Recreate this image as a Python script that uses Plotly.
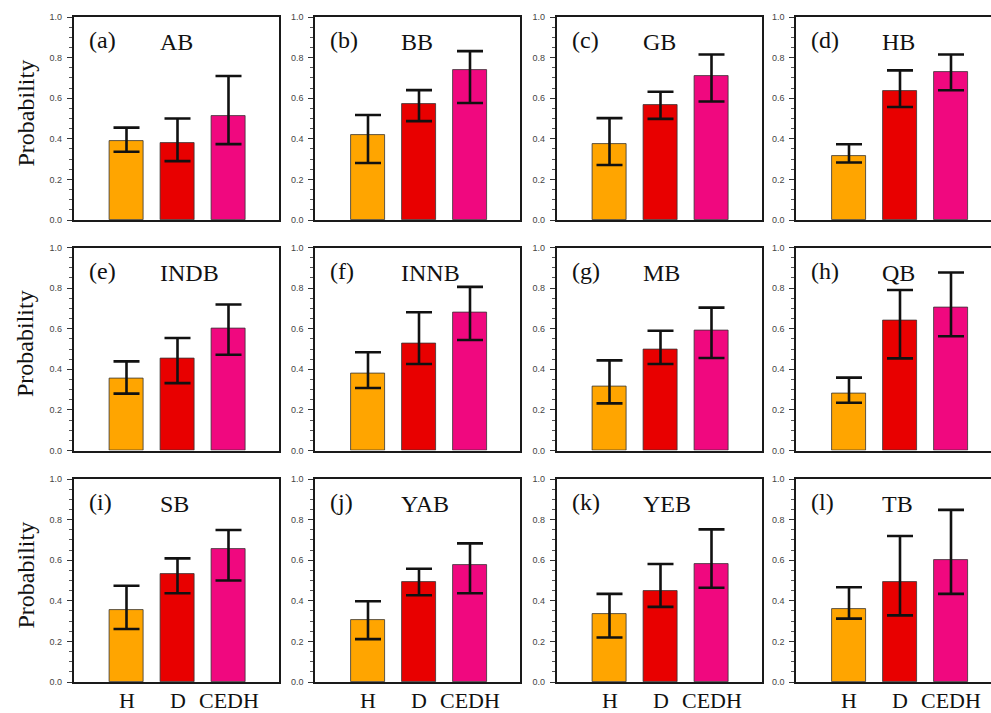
import plotly.graph_objects as go

categories = ["H", "D", "CEDH"]
basins = ["AB", "BB", "GB", "HB", "INDB", "INNB", "MB", "QB", "SB", "YAB", "YEB", "TB"]
panel_tags = ["(a)", "(b)", "(c)", "(d)", "(e)", "(f)", "(g)", "(h)", "(i)", "(j)", "(k)", "(l)"]

# mean probability for H, D, CEDH in each basin
values = [
    [0.390, 0.378, 0.514],  # AB
    [0.419, 0.571, 0.738],  # BB
    [0.376, 0.568, 0.708],  # GB
    [0.314, 0.637, 0.730],  # HB
    [0.357, 0.451, 0.599],  # INDB
    [0.377, 0.528, 0.678],  # INNB
    [0.316, 0.497, 0.589],  # MB
    [0.283, 0.638, 0.702],  # QB
    [0.356, 0.530, 0.657],  # SB
    [0.304, 0.493, 0.576],  # YAB
    [0.337, 0.450, 0.583],  # YEB
    [0.361, 0.493, 0.602],  # TB
]
upper = [
    [0.455, 0.500, 0.709],
    [0.517, 0.640, 0.832],
    [0.502, 0.632, 0.815],
    [0.373, 0.737, 0.815],
    [0.439, 0.554, 0.719],
    [0.484, 0.681, 0.806],
    [0.444, 0.590, 0.704],
    [0.359, 0.791, 0.877],
    [0.474, 0.609, 0.749],
    [0.398, 0.558, 0.683],
    [0.434, 0.581, 0.752],
    [0.467, 0.719, 0.848],
]
lower = [
    [0.336, 0.290, 0.374],
    [0.281, 0.487, 0.576],
    [0.271, 0.498, 0.584],
    [0.283, 0.557, 0.639],
    [0.280, 0.332, 0.472],
    [0.308, 0.426, 0.544],
    [0.232, 0.426, 0.456],
    [0.235, 0.454, 0.563],
    [0.261, 0.437, 0.500],
    [0.211, 0.427, 0.437],
    [0.219, 0.370, 0.464],
    [0.312, 0.328, 0.434],
]
bar_colors = ["#FFA500", "#E80000", "#F0087F"]
y_ticks = [0.0, 0.2, 0.4, 0.6, 0.8, 1.0]
y_ticklabels = ["0.0", "0.2", "0.4", "0.6", "0.8", "1.0"]

W, H = 991, 713
col_left = [73.5, 315, 556.5, 796]
panel_w = 205
row_top = [17, 247.5, 479]
panel_h = 203
first_off = 53.0
spacing = 51.0

fig = go.Figure()
layout = dict(
    width=W, height=H, margin=dict(l=0, r=0, t=0, b=0, autoexpand=False),
    paper_bgcolor="white", plot_bgcolor="white", showlegend=False,
    bargap=0,
)
annotations = []

for i, name in enumerate(basins):
    r, c = divmod(i, 4)
    idx = "" if i == 0 else str(i + 1)
    left = col_left[c]
    right = min(left + panel_w, W)
    x0 = -first_off / spacing
    x1 = (right - left - first_off) / spacing
    top = row_top[r]
    bot = top + panel_h
    xdom = [left / W, right / W]
    ydom = [1 - bot / H, 1 - top / H]

    err_plus = [u - v for u, v in zip(upper[i], values[i])]
    err_minus = [v - l for v, l in zip(values[i], lower[i])]
    fig.add_trace(go.Bar(
        x=[0, 1, 2], y=values[i], width=0.667,
        marker=dict(color=bar_colors, line=dict(color="#333333", width=0.8)),
        error_y=dict(type="data", symmetric=False, array=err_plus, arrayminus=err_minus,
                     color="#111111", thickness=2.6, width=13),
        xaxis="x" + idx, yaxis="y" + idx, hoverinfo="skip",
    ))

    layout["xaxis" + idx] = dict(
        domain=xdom, range=[x0, x1], anchor="y" + idx, automargin=False,
        showline=True, linecolor="#1a1a1a", linewidth=1.6, mirror=True,
        showgrid=False, zeroline=False, ticks="", showticklabels=False,
        fixedrange=True,
    )
    layout["yaxis" + idx] = dict(
        domain=ydom, range=[0, 1], anchor="x" + idx, automargin=False,
        showline=True, linecolor="#1a1a1a", linewidth=1.6, mirror=(c != 3),
        showgrid=False, zeroline=False,
        tickmode="array", tickvals=y_ticks, ticktext=y_ticklabels,
        ticks="outside", ticklen=5, tickwidth=1, tickcolor="#333333",
        minor=dict(dtick=0.05, ticks="outside", ticklen=3, tickwidth=0.8, tickcolor="#555555"),
        tickfont=dict(family="Liberation Sans", size=9, color="#444444"),
        ticklabelstandoff=3,
        fixedrange=True,
    )

    # category labels under the bottom row, placed on the panel's own x scale
    if r == 2:
        for k, cat in enumerate(categories):
            annotations.append(dict(
                x=k, y=0, xref="x" + idx, yref="paper", text=cat, showarrow=False,
                xanchor="center", yanchor="bottom", yshift=-2,
                font=dict(family="Liberation Serif", size=22, color="#111111"),
            ))

    annotations.append(dict(
        x=(left + 13) / W, y=1 - (top + 23) / H, xref="paper", yref="paper",
        text=panel_tags[i], showarrow=False, xanchor="left", yanchor="middle",
        font=dict(family="Liberation Serif", size=24, color="#111111"),
    ))
    annotations.append(dict(
        x=(left + 84) / W, y=1 - (top + 25) / H, xref="paper", yref="paper",
        text=name, showarrow=False, xanchor="left", yanchor="middle",
        font=dict(family="Liberation Serif", size=24, color="#111111"),
    ))

for r in range(3):
    annotations.append(dict(
        x=25 / W, y=1 - (row_top[r] + panel_h / 2 - 5) / H, xref="paper", yref="paper",
        text="Probability", showarrow=False, textangle=-90,
        xanchor="center", yanchor="middle",
        font=dict(family="Liberation Serif", size=24, color="#111111"),
    ))

layout["annotations"] = annotations
fig.update_layout(**layout)
fig.write_html("out.html")
